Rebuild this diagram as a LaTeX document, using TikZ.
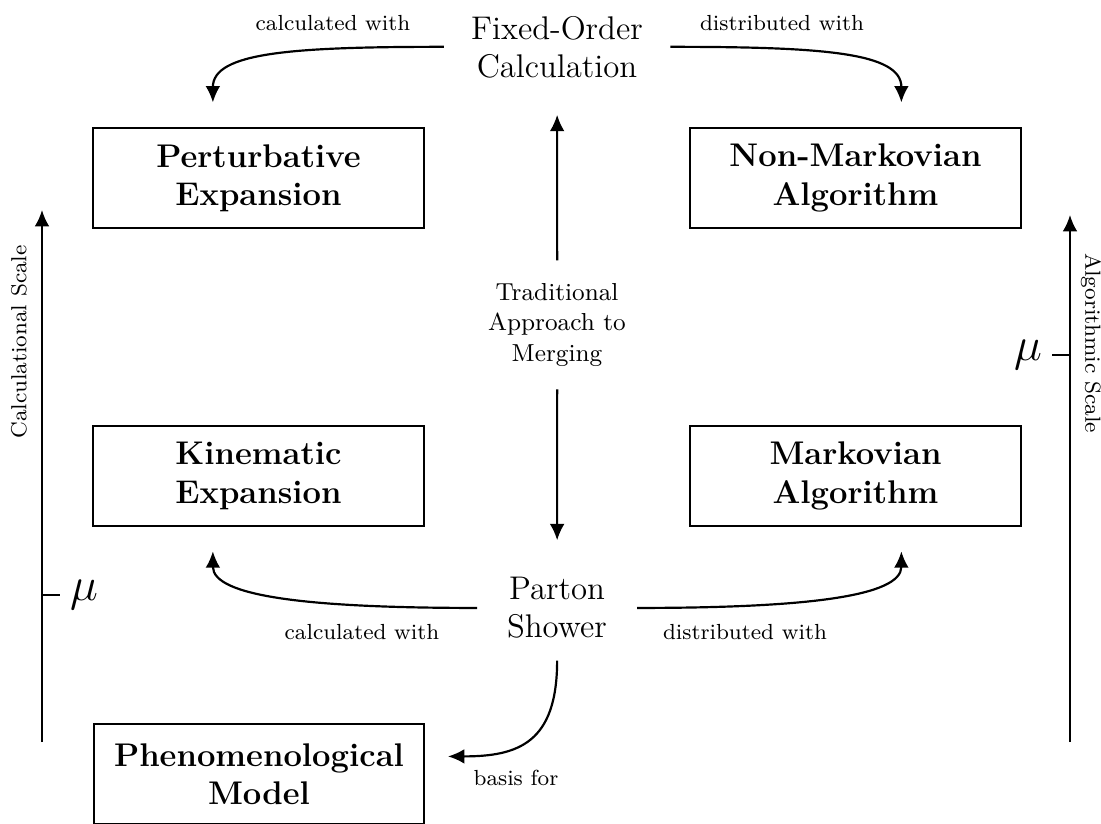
\documentclass[tikz,border=0pt]{standalone}
\usepackage{amsmath, amssymb}
\usepackage{tikz}
\usetikzlibrary{arrows.meta, positioning}

\begin{document}
\begin{tikzpicture}[scale=1.287,
    box/.style={draw, semithick, align=center, font=\large\bfseries, minimum width=121pt, minimum height=36.6pt},
    big/.style={align=center, font=\large},
    mid/.style={align=center, font=\small},
    lbl/.style={font=\footnotesize},
    flow/.style={thick, -{Latex[length=6pt, width=5.4pt]}}]
    \useasboundingbox (0,0) rectangle (11.01,8.23);

    \node[big] (fo) at (5.57,7.76) {Fixed-Order\\Calculation};
    \node[box] (pe) at (2.585,6.45) {Perturbative\\Expansion};
    \node[box] (nm) at (8.555,6.45) {Non-Markovian\\Algorithm};
    \node[mid] (tam) at (5.57,4.98) {Traditional\\Approach to\\Merging};
    \node[box] (ke) at (2.585,3.47) {Kinematic\\Expansion};
    \node[box] (ma) at (8.555,3.47) {Markovian\\Algorithm};
    \node[big] (ps) at (5.57,2.15) {Parton\\Shower};
    \node[box] (pm) at (2.59,0.49) {Phenomenological\\Model};

    \draw[flow, shorten <=6.5pt] (fo.west) .. controls +(-1.7,0) and +(0,0.5) .. ([xshift=-13pt, yshift=7pt]pe.north);
    \draw[flow, shorten <=6.5pt] (fo.east) .. controls +(1.7,0) and +(0,0.5) .. ([xshift=13pt, yshift=7pt]nm.north);
    \draw[flow, shorten <=5pt, shorten >=10pt] (tam) -- (fo);
    \draw[flow, shorten <=5pt, shorten >=10pt] (tam) -- (ps);
    \draw[flow, shorten <=7.5pt] (ps.west) .. controls +(-1.9,0) and +(0,-0.45) .. ([xshift=-13pt, yshift=-7pt]ke.south);
    \draw[flow, shorten <=7.5pt] (ps.east) .. controls +(1.9,0) and +(0,-0.45) .. ([xshift=13pt, yshift=-7pt]ma.south);
    \draw[flow, shorten <=4.5pt] (ps.south) .. controls +(0,-0.95) and +(0.7,0) .. ([xshift=6.5pt, yshift=5pt]pm.east);

    \node[lbl] (ctop) at (3.33,8.00) {calculated with};
    \node[lbl] (dtop) at (7.82,8.00) {distributed with};
    \node[lbl] (cbot) at (3.62,1.91) {calculated with};
    \node[lbl] (dbot) at (7.45,1.91) {distributed with};
    \node[lbl] (bf) at (5.16,0.45) {basis for};

    % scales
    \draw[flow] (0.42,0.81) -- (0.42,6.13);
    \draw[flow] (10.70,0.81) -- (10.70,6.08);
    \draw[thick] (0.42,2.28) -- (0.60,2.28) node[right] (mul) {\LARGE$\mu$};
    \draw[thick] (10.70,4.68) -- (10.52,4.68) node[left] (mur) {\LARGE$\mu$};
    \node[lbl, rotate=90] (cs) at (0.19,4.81) {Calculational Scale};
    \node[lbl, rotate=-90] (as) at (10.91,4.80) {Algorithmic Scale};
\end{tikzpicture}
\end{document}
